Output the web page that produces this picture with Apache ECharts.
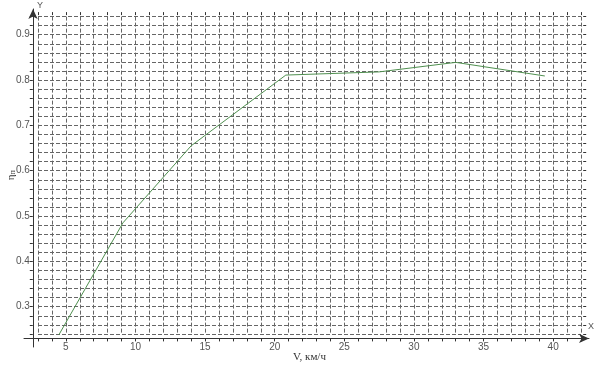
<!DOCTYPE html>
<html>
<head>
<meta charset="utf-8">
<script src="https://cdn.jsdelivr.net/npm/echarts@6/dist/echarts.min.js"></script>
<style>
html,body{margin:0;padding:0;background:#fff;}
#c{width:602px;height:368px;}
</style>
</head>
<body>
<div id="c"></div>
<script>
// Data
var speedV = [4.5, 9.1, 14.0, 20.8, 27.5, 33.0, 39.4];
var etaP   = [0.238, 0.485, 0.655, 0.811, 0.818, 0.839, 0.809];
var xName = 'V, км/ч';
var yName = '{a|η}{b|п}';

var pts = speedV.map(function (v, i) { return [v, etaP[i]]; });

var chart = echarts.init(document.getElementById('c'), null, {renderer: 'canvas'});

var labelFont = {fontFamily: 'Liberation Sans', fontSize: 10, color: '#555'};
var gridLine = {show: true, lineStyle: {color: '#666', width: 1, type: [4, 2]}};

function xFmt(v) { return (Math.abs(v % 5) < 1e-6) ? String(Math.round(v)) : ''; }
function yFmt(v) { var t = v * 10; return (Math.abs(t - Math.round(t)) < 1e-6) ? (Math.round(t) / 10).toFixed(1) : ''; }

chart.setOption({
  animation: false,
  backgroundColor: '#fff',
  grid: [
    {left: 38, right: 21, top: 16.6, bottom: 34.1, containLabel: false, outerBoundsMode: 'none'},
    {left: 33, right: 560, top: 9, bottom: 21, containLabel: false, outerBoundsMode: 'none'},
    {left: 24, right: 13, top: 300, bottom: 29.6, containLabel: false, outerBoundsMode: 'none'}
  ],
  xAxis: [
    {type: 'value', gridIndex: 0, min: 3, max: 42, interval: 1, offset: 4.5,
     axisLine: {show: false},
     axisTick: {show: true, inside: false, length: 3, lineStyle: {color: '#333'}},
     axisLabel: Object.assign({show: true, margin: 4, formatter: xFmt, showMinLabel: true, showMaxLabel: true}, labelFont),
     splitLine: gridLine,
     name: xName, nameLocation: 'middle', nameGap: 13, nameMoveOverlap: false,
     nameTextStyle: {fontFamily: 'Liberation Serif', fontSize: 11, color: '#333'}},
    {type: 'value', gridIndex: 0, min: 3, max: 42, interval: 1, offset: 4.5,
     axisLine: {show: false},
     axisTick: {show: true, inside: true, length: 3, lineStyle: {color: '#333'}},
     axisLabel: {show: false}, splitLine: {show: false}},
    {type: 'value', gridIndex: 1, min: 0, max: 1, show: false},
    {type: 'value', gridIndex: 2, min: 0, max: 1,
     axisLine: {show: true, onZero: false, symbol: ['none', 'arrow'], symbolSize: [7, 10],
                lineStyle: {color: '#333', width: 1}},
     axisTick: {show: false}, axisLabel: {show: false}, splitLine: {show: false}}
  ],
  yAxis: [
    {type: 'value', gridIndex: 0, min: 0.24, max: 0.94, interval: 0.02, offset: 5.2,
     axisLine: {show: false},
     axisTick: {show: true, inside: false, length: 3, lineStyle: {color: '#333'}},
     axisLabel: Object.assign({show: true, margin: 3, formatter: yFmt}, labelFont),
     splitLine: gridLine,
     name: yName, nameLocation: 'middle', nameGap: 16, nameRotate: 90, nameMoveOverlap: false,
     nameTextStyle: {color: '#333',
       rich: {a: {fontFamily: 'Liberation Serif', fontSize: 11, color: '#333'},
              b: {fontFamily: 'Liberation Serif', fontSize: 8, color: '#333', verticalAlign: 'bottom', padding: [4, 0, 0, 0]}}}},
    {type: 'value', gridIndex: 0, min: 0.24, max: 0.94, interval: 0.02, offset: 5.2,
     axisLine: {show: false},
     axisTick: {show: true, inside: true, length: 3, lineStyle: {color: '#333'}},
     axisLabel: {show: false}, splitLine: {show: false}},
    {type: 'value', gridIndex: 1, min: 0, max: 1, position: 'left',
     axisLine: {show: true, onZero: false, symbol: ['none', 'arrow'], symbolSize: [7, 10],
                lineStyle: {color: '#333', width: 1}},
     axisTick: {show: false}, axisLabel: {show: false}, splitLine: {show: false}},
    {type: 'value', gridIndex: 2, min: 0, max: 1, show: false}
  ],
  graphic: [
    {type: 'text', left: 37, top: 1, style: {text: 'Y', fontFamily: 'Liberation Sans', fontSize: 9, fill: '#555'}},
    {type: 'text', left: 588, top: 322, style: {text: 'X', fontFamily: 'Liberation Sans', fontSize: 9, fill: '#555'}}
  ],
  series: [
    {type: 'line', xAxisIndex: 0, yAxisIndex: 0, data: pts, showSymbol: false, symbol: 'none',
     clip: false, lineStyle: {color: '#4f8f4f', width: 1}}
  ]
});
</script>
</body>
</html>
